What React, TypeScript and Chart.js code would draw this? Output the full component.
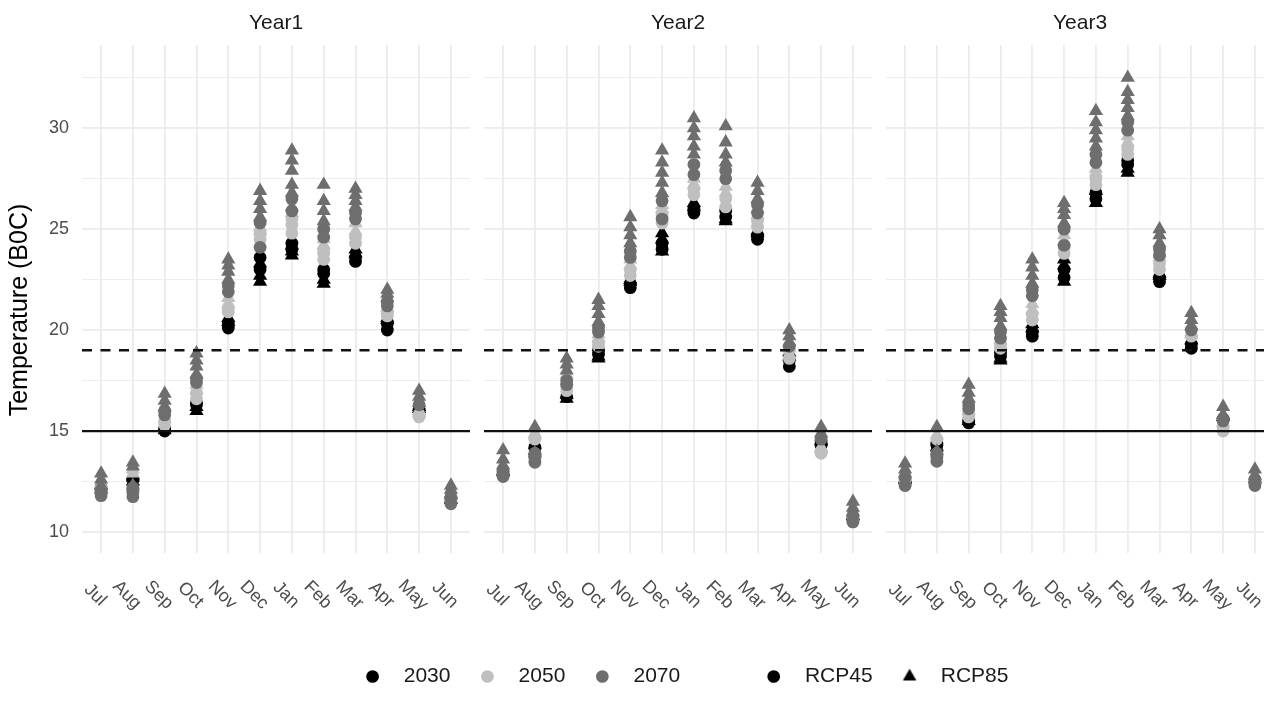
import React, { useEffect, useRef } from "react";
import { Chart, registerables } from "chart.js";
Chart.register(...registerables);

// ---------------- data ----------------
const months = ["Jul", "Aug", "Sep", "Oct", "Nov", "Dec", "Jan", "Feb", "Mar", "Apr", "May", "Jun"];
const panelNames = ["Year1", "Year2", "Year3"];
const yAxisTitle = "Temperature (B0C)";
const yMajorTicks = [10, 15, 20, 25, 30];
const yMinorTicks = [12.5, 17.5, 22.5, 27.5, 32.5];
const solidThreshold = 15;
const dashedThreshold = 19;
const yearLabels = ["2030", "2050", "2070"];
const rcpLabels = ["RCP45", "RCP85"];

// Year1 (one inner list per month, Jul..Jun)
const y1_2030_rcp45 = [[12.0, 12.2], [12.6], [15.0, 15.1], [16.3, 16.4], [20.1, 20.3], [23.0, 23.6], [24.0, 24.3], [22.8, 23.0], [23.4, 23.6], [20.0, 20.3], [16.0, 16.1], [11.5, 11.7]];
const y1_2030_rcp85 = [[12.1, 12.3], [12.5, 12.7, 12.8], [15.05, 15.2], [16.0, 16.2], [20.4, 20.6], [22.4, 22.7, 23.3], [23.7, 23.9, 24.2], [22.3, 22.5], [23.8, 24.0], [20.5, 20.6], [16.1, 16.2], [11.6, 11.8]];
const y1_2050_rcp45 = [[11.9, 12.1], [11.9, 12.0], [15.3, 15.5], [16.6, 16.9], [20.9, 21.1], [24.5, 24.8], [24.8, 25.2, 25.5], [23.5, 23.8, 24.0], [24.3, 24.6], [20.7, 20.9], [15.7, 15.8], [11.6]];
const y1_2050_rcp85 = [[12.2, 12.4], [12.9, 13.1], [15.6, 16.1], [17.0, 17.3], [21.3, 21.6], [24.9, 25.1], [25.8, 26.1], [24.2, 24.5], [24.9, 25.3], [21.0, 21.1], [15.9, 16.0], [11.8, 11.9]];
const y1_2070_rcp45 = [[11.8, 12.0], [11.75, 12.0, 12.2], [15.8, 16.0], [17.4, 17.6], [21.9, 22.2], [24.1, 25.3], [25.9, 26.5], [24.6, 25.0], [25.5, 25.8], [21.2, 21.4], [16.3], [11.4, 11.7]];
const y1_2070_rcp85 = [[12.3, 12.6, 12.9], [12.3, 13.25, 13.45], [16.2, 16.5, 16.85], [17.8, 18.2, 18.5, 18.85], [22.5, 22.9, 23.2, 23.5], [25.6, 26.0, 26.4, 26.9], [26.8, 27.2, 27.9, 28.4, 28.9], [25.4, 25.9, 26.4, 27.2], [26.1, 26.4, 26.7, 27.0], [21.6, 21.8, 22.0], [16.4, 16.7, 17.0], [11.9, 12.1, 12.3]];

// Year2
const y2_2030_rcp45 = [[12.8, 12.9], [14.2], [16.7], [18.8, 19.0], [22.1, 22.3], [24.0, 24.3], [25.8, 26.0], [25.6, 25.9], [24.5, 24.7], [18.2, 18.5], [14.3, 14.4], [10.6, 10.7]];
const y2_2030_rcp85 = [[13.0], [14.0, 14.3], [16.6, 16.8], [18.6, 18.7], [22.4, 22.5], [23.9, 24.5, 24.8], [26.1, 26.3], [25.4, 25.5], [24.8, 24.9], [18.7, 18.9], [14.5], [10.8]];
const y2_2050_rcp45 = [[12.9, 13.1], [13.6, 14.6], [17.0, 17.2], [19.2, 19.4], [22.7, 23.0], [25.3, 25.7], [26.7, 27.0], [26.1, 26.5], [25.1, 25.4], [18.6, 19.0], [13.9, 14.0], [10.5, 10.7]];
const y2_2050_rcp85 = [[13.2], [14.8, 14.9], [17.5, 17.8], [19.6, 19.8], [23.2, 23.5], [26.0, 26.2], [27.2, 27.5], [26.8, 27.1], [25.7, 26.0], [19.1], [14.1, 14.2], [10.9]];
const y2_2070_rcp45 = [[12.75, 13.0], [13.45, 13.7, 13.9], [17.3, 17.5], [19.9, 20.1], [23.6, 23.9], [25.5, 26.4], [27.7, 28.2], [27.5, 27.9], [25.8, 26.2], [19.2], [14.6], [10.5, 10.8]];
const y2_2070_rcp85 = [[13.3, 13.6, 14.05], [13.9, 15.2], [18.0, 18.3, 18.6], [20.4, 20.8, 21.2, 21.5], [24.3, 24.7, 25.1, 25.6], [26.8, 27.3, 27.8, 28.3, 28.9], [28.7, 29.1, 29.6, 30.0, 30.5], [28.3, 28.7, 29.3, 30.1], [26.5, 26.9, 27.3], [19.4, 19.7, 20.0], [14.7, 14.9, 15.2], [11.0, 11.2, 11.5]];

// Year3
const y3_2030_rcp45 = [[12.4, 12.5], [14.3, 14.4], [15.4, 15.5], [18.7, 18.9], [19.7, 19.9], [22.6, 23.0], [26.5, 26.8], [28.2, 28.4], [22.4, 22.6], [19.1, 19.3], [15.6], [12.5]];
const y3_2030_rcp85 = [[12.6], [14.2], [15.5], [18.5, 18.6], [20.1, 20.3], [22.4, 23.2, 23.5], [26.3, 26.9], [27.8, 28.0], [22.7, 22.8], [19.5], [15.7], [12.6]];
const y3_2050_rcp45 = [[12.3, 12.6], [13.8, 14.6], [15.7, 15.9], [19.1, 19.3], [20.5, 20.8], [23.8, 24.1], [27.2, 27.5], [28.7, 29.0], [23.0, 23.3], [19.7], [15.0, 15.2], [12.4]];
const y3_2050_rcp85 = [[12.8], [14.8], [16.0], [19.5], [21.0, 21.3], [24.4, 24.7], [27.8, 28.0], [29.3, 29.6], [23.6, 23.8], [19.8, 19.9], [15.4], [12.7]];
const y3_2070_rcp45 = [[12.3, 12.7], [13.5, 13.7, 13.9], [16.1, 16.3], [19.6, 19.9], [21.7, 22.0], [24.2, 25.0], [28.3, 28.7], [29.9, 30.3], [23.7, 24.0], [20.0], [15.5], [12.3, 12.6]];
const y3_2070_rcp85 = [[12.9, 13.1, 13.4], [14.0, 15.2], [16.6, 16.9, 17.3], [20.2, 20.6, 20.9, 21.2], [22.3, 22.7, 23.1, 23.5], [25.3, 25.7, 26.0, 26.3], [29.1, 29.5, 29.9, 30.3, 30.85], [30.6, 31.0, 31.4, 31.8, 32.5], [24.3, 24.7, 25.0], [20.2, 20.5, 20.85], [15.8, 16.2], [12.8, 13.1]];

const panelSeries = [
  { "2030": [y1_2030_rcp45, y1_2030_rcp85], "2050": [y1_2050_rcp45, y1_2050_rcp85], "2070": [y1_2070_rcp45, y1_2070_rcp85] },
  { "2030": [y2_2030_rcp45, y2_2030_rcp85], "2050": [y2_2050_rcp45, y2_2050_rcp85], "2070": [y2_2070_rcp45, y2_2070_rcp85] },
  { "2030": [y3_2030_rcp45, y3_2030_rcp85], "2050": [y3_2050_rcp45, y3_2050_rcp85], "2070": [y3_2070_rcp45, y3_2070_rcp85] },
];

// ---------------- styles / layout ----------------
const FONT = '"Liberation Sans", Arial, Helvetica, sans-serif';
const yearColors: Record<string, string> = { "2030": "#000000", "2050": "#bfbfbf", "2070": "#6e6e6e" };
const shapes = ["circle", "triangle"];
const shapeRadius = [6.4, 8.2];
const Y_MIN = 8.96;
const Y_MAX = 34.12;
const PANEL_H = 640;
const PLOT_BOTTOM = 553;
const AXIS_W = 82;
const PANEL_W = 388;
const PANEL_GAP = 14;
const Y_TITLE_X = 20;
const Y_TITLE_Y = 310;

const toPoints = (arr: number[][]) => {
  const pts: { x: number; y: number }[] = [];
  arr.forEach((vals, i) => vals.forEach((v) => pts.push({ x: i, y: v })));
  return pts;
};

const refLinePlugin = {
  id: "refLines",
  afterDatasetsDraw(chart: any) {
    const { ctx, chartArea, scales } = chart;
    const y = scales.y;
    ctx.save();
    ctx.strokeStyle = "#111111";
    ctx.lineWidth = 2.2;
    const ys = y.getPixelForValue(solidThreshold);
    ctx.beginPath();
    ctx.moveTo(chartArea.left, ys);
    ctx.lineTo(chartArea.right, ys);
    ctx.stroke();
    const yd = y.getPixelForValue(dashedThreshold);
    ctx.setLineDash([10, 8.5]);
    ctx.lineWidth = 2.5;
    ctx.beginPath();
    ctx.moveTo(chartArea.left, yd);
    ctx.lineTo(chartArea.right, yd);
    ctx.stroke();
    ctx.restore();
  },
};

const monthLabelPlugin = {
  id: "monthLabels",
  afterDraw(chart: any) {
    const { ctx, chartArea, scales } = chart;
    const x = scales.x;
    ctx.save();
    ctx.font = `18px ${FONT}`;
    ctx.fillStyle = "#4d4d4d";
    ctx.textAlign = "center";
    ctx.textBaseline = "middle";
    x.ticks.forEach((t: any) => {
      const px = x.getPixelForValue(t.value);
      ctx.save();
      ctx.translate(px - 6, chartArea.bottom + 42);
      ctx.rotate(Math.PI / 4);
      ctx.fillText(months[t.value], 0, 0);
      ctx.restore();
    });
    ctx.restore();
  },
};

const yTitlePlugin = {
  id: "yTitle",
  afterDraw(chart: any) {
    const { ctx } = chart;
    ctx.save();
    ctx.font = `25px ${FONT}`;
    ctx.fillStyle = "#000000";
    ctx.textAlign = "center";
    ctx.textBaseline = "middle";
    ctx.translate(Y_TITLE_X, Y_TITLE_Y);
    ctx.rotate(-Math.PI / 2);
    ctx.fillText(yAxisTitle, 0, 0);
    ctx.restore();
  },
};

function panelConfig(p: number): any {
  const series = panelSeries[p] as any;
  const datasets: any[] = [];
  ["2070", "2050", "2030"].forEach((yr) => {
    [1, 0].forEach((r) => {
      datasets.push({
        label: `${yr} ${rcpLabels[r]}`,
        data: toPoints(series[yr][r]),
        pointStyle: shapes[r],
        pointRadius: shapeRadius[r],
        pointHoverRadius: shapeRadius[r],
        backgroundColor: yearColors[yr],
        borderColor: yearColors[yr],
        borderWidth: 0,
        pointBorderWidth: 0,
      });
    });
  });
  const allY = [...yMajorTicks, ...yMinorTicks].sort((a, b) => a - b);
  const first = p === 0;
  return {
    type: "scatter",
    data: { datasets },
    options: {
      animation: false,
      responsive: false,
      events: [],
      layout: { autoPadding: false, padding: { left: 0, right: 0, top: 0, bottom: PANEL_H - PLOT_BOTTOM } },
      plugins: {
        legend: { display: false },
        tooltip: { enabled: false },
        title: {
          display: true,
          text: panelNames[p],
          fullSize: false,
          color: "#1a1a1a",
          font: { family: FONT, size: 21, weight: "normal" },
          padding: { top: 11, bottom: 8.8 },
        },
      },
      scales: {
        x: {
          type: "linear",
          min: -0.6,
          max: 11.6,
          afterBuildTicks: (s: any) => {
            s.ticks = months.map((_, i) => ({ value: i }));
          },
          ticks: { display: false },
          grid: { color: "#ebebeb", lineWidth: 1.8, drawTicks: false },
          border: { display: false },
        },
        y: {
          type: "linear",
          min: Y_MIN,
          max: Y_MAX,
          afterBuildTicks: (s: any) => {
            s.ticks = allY.map((v) => ({ value: v }));
          },
          afterFit: (s: any) => {
            s.width = first ? AXIS_W : 0;
          },
          ticks: {
            display: first,
            padding: 13,
            color: "#4d4d4d",
            font: { family: FONT, size: 18 },
            callback: (v: number) => (yMajorTicks.includes(v) ? String(v) : ""),
          },
          grid: {
            color: "#ebebeb",
            drawTicks: false,
            lineWidth: (c: any) => (c.tick && yMajorTicks.includes(c.tick.value) ? 1.8 : 0.9),
          },
          border: { display: false },
          title: { display: false },
        },
      },
    },
    plugins: first ? [refLinePlugin, monthLabelPlugin, yTitlePlugin] : [refLinePlugin, monthLabelPlugin],
  };
}

function makeTriangleImage(r: number): HTMLCanvasElement {
  const size = Math.ceil(r * 2 + 2);
  const cv = document.createElement("canvas");
  cv.width = size;
  cv.height = size;
  const g = cv.getContext("2d")!;
  const cx = size / 2;
  const cy = size / 2;
  g.fillStyle = "#000000";
  g.beginPath();
  for (let k = 0; k < 3; k++) {
    const a = (k * 2 * Math.PI) / 3;
    const px = cx + Math.sin(a) * r;
    const py = cy - Math.cos(a) * r;
    if (k === 0) g.moveTo(px, py);
    else g.lineTo(px, py);
  }
  g.closePath();
  g.fill();
  return cv;
}

function legendConfig(): any {
  const tri = makeTriangleImage(7.8);
  const items: any[] = [
    { text: "  " + yearLabels[0], fillStyle: yearColors["2030"], pointStyle: "circle" },
    { text: "  " + yearLabels[1], fillStyle: yearColors["2050"], pointStyle: "circle" },
    { text: "  " + yearLabels[2], fillStyle: yearColors["2070"], pointStyle: "circle" },
    { text: "", fillStyle: "rgba(0,0,0,0)", pointStyle: "circle" },
    { text: "  " + rcpLabels[0], fillStyle: "#000000", pointStyle: "circle" },
    { text: "  " + rcpLabels[1], fillStyle: "#000000", pointStyle: tri },
  ];
  return {
    type: "scatter",
    data: { datasets: items.map((it) => ({ label: it.text, data: [] })) },
    options: {
      animation: false,
      responsive: false,
      events: [],
      layout: { autoPadding: false, padding: 0 },
      scales: { x: { display: false }, y: { display: false } },
      plugins: {
        tooltip: { enabled: false },
        title: { display: false },
        legend: {
          display: true,
          position: "top",
          align: "center",
          maxHeight: 120,
          labels: {
            usePointStyle: true,
            boxWidth: 18,
            boxHeight: 9,
            padding: 28,
            color: "#1a1a1a",
            font: { family: FONT, size: 21 },
            generateLabels: () =>
              items.map((it, i) => ({
                text: it.text,
                fillStyle: it.fillStyle,
                strokeStyle: it.fillStyle,
                lineWidth: 0,
                pointStyle: it.pointStyle,
                hidden: false,
                datasetIndex: i,
                fontColor: "#1a1a1a",
              })),
          },
        },
      },
    },
  };
}

export default function App() {
  const c0 = useRef<HTMLCanvasElement>(null);
  const c1 = useRef<HTMLCanvasElement>(null);
  const c2 = useRef<HTMLCanvasElement>(null);
  const lg = useRef<HTMLCanvasElement>(null);

  useEffect(() => {
    const charts: Chart[] = [];
    [c0, c1, c2].forEach((r, p) => {
      if (r.current) charts.push(new Chart(r.current, panelConfig(p)));
    });
    if (lg.current) charts.push(new Chart(lg.current, legendConfig()));
    return () => charts.forEach((c) => c.destroy());
  }, []);

  const p1Left = AXIS_W + PANEL_W + PANEL_GAP;
  const p2Left = p1Left + PANEL_W + PANEL_GAP;
  const legendLeft = AXIS_W + 8;
  const legendW = p2Left + PANEL_W - AXIS_W;

  return (
    <div style={{ position: "fixed", left: 0, top: 0, width: 1264, height: 715, background: "#ffffff", overflow: "hidden" }}>
      <canvas ref={c0} width={AXIS_W + PANEL_W} height={PANEL_H} style={{ position: "absolute", left: 0, top: 0 }} />
      <canvas ref={c1} width={PANEL_W} height={PANEL_H} style={{ position: "absolute", left: p1Left, top: 0 }} />
      <canvas ref={c2} width={PANEL_W} height={PANEL_H} style={{ position: "absolute", left: p2Left, top: 0 }} />
      <canvas ref={lg} width={legendW} height={240} style={{ position: "absolute", left: legendLeft, top: 638 }} />
    </div>
  );
}
